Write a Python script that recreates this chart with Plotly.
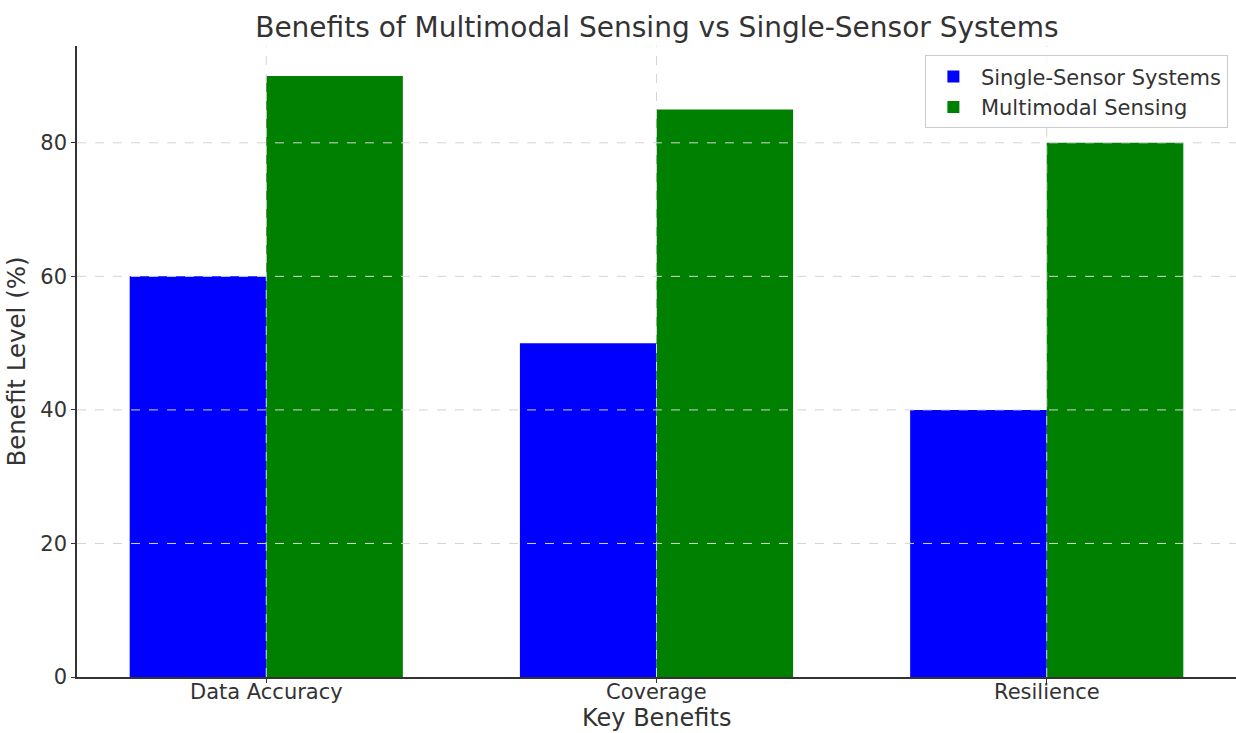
import plotly.graph_objects as go

categories = ["Data Accuracy", "Coverage", "Resilience"]
single_sensor = [60, 50, 40]
multimodal = [90, 85, 80]
y_ticks = [0, 20, 40, 60, 80]

FONT = "DejaVu Sans"
TEXT = "#333333"

fig = go.Figure()
fig.add_trace(go.Bar(x=categories, y=single_sensor, name="Single-Sensor Systems",
                     marker=dict(color="#0000ff", line=dict(width=0))))
fig.add_trace(go.Bar(x=categories, y=multimodal, name="Multimodal Sensing",
                     marker=dict(color="#008000", line=dict(width=0))))

# dashed grid drawn over the bars
grid = dict(color="#d4d4d4", width=1, dash="dash")
shapes = []
for t in y_ticks[1:]:
    shapes.append(dict(type="line", xref="paper", yref="y", x0=0, x1=1, y0=t, y1=t,
                       line=grid, layer="above"))
for c in categories:
    shapes.append(dict(type="line", xref="x", yref="paper", x0=c, x1=c, y0=0, y1=1,
                       line=grid, layer="above"))

# category labels set close under the axis, and the x-axis title below them
annotations = [
    dict(x=c, xref="x", y=0, yref="paper", yanchor="middle", yshift=-15,
         text=c, showarrow=False, font=dict(size=21, color=TEXT))
    for c in categories
]
annotations.append(dict(x=0.5, xref="paper", y=0, yref="paper", yanchor="middle",
                        yshift=-41, text="Key Benefits", showarrow=False,
                        font=dict(size=24, color=TEXT)))

fig.update_layout(
    width=1236, height=733,
    margin=dict(l=77, r=0, t=46, b=56),
    paper_bgcolor="white", plot_bgcolor="white",
    barmode="group", bargap=0.3, bargroupgap=0,
    font=dict(family=FONT, color=TEXT, size=21),
    title=dict(text="Benefits of Multimodal Sensing vs Single-Sensor Systems",
               x=0.5315, xanchor="center", y=0.963, yanchor="middle",
               font=dict(size=28, color=TEXT)),
    shapes=shapes,
    annotations=annotations,
    legend=dict(x=0.993, xanchor="right", y=0.985, yanchor="top",
                bgcolor="rgba(255,255,255,0.85)", bordercolor="#cccccc", borderwidth=1,
                font=dict(size=21, color=TEXT), itemwidth=45,
                tracegroupgap=2),
    showlegend=True,
)
fig.update_xaxes(
    range=[-0.485, 2.485], showgrid=False, showticklabels=False,
    showline=True, linecolor="#333333", linewidth=1.5,
    ticks="outside", ticklen=4, tickcolor="#333333",
)
fig.update_yaxes(
    range=[0, 94.5], tickvals=y_ticks, showgrid=False, zeroline=False,
    showline=True, linecolor="#333333", linewidth=1.5,
    ticks="outside", ticklen=4, tickcolor="#333333",
    tickfont=dict(size=21, color=TEXT),
    title=dict(text="Benefit Level (%)", font=dict(size=24.5, color=TEXT), standoff=8),
)

fig.write_html("out.html")
